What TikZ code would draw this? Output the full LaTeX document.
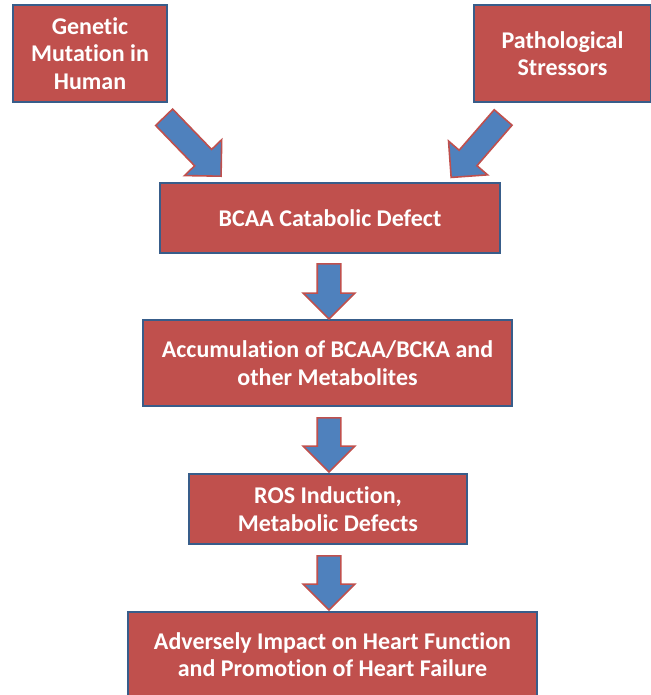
\documentclass[tikz,border=0pt]{standalone}
\usepackage{fontspec}
\setmainfont{Carlito}[Ligatures=NoCommon]
\usetikzlibrary{positioning,calc,shapes.arrows}
\definecolor{boxred}{HTML}{C0504D}
\definecolor{boxblue}{HTML}{385D8A}
\definecolor{arrowblue}{HTML}{4F81BD}
% block arrow between two named coordinates
\newcommand{\flowarrow}[2]{%
  \path let \p1=($(#2)-(#1)$), \n1={atan2(\y1,\x1)}, \n2={veclen(\x1,\y1)} in
    node[blockarrow, rotate=\n1, minimum height=\n2] at ($(#1)!0.5!(#2)$) {};}

\begin{document}
\begin{tikzpicture}[x=0.5pt, y=-0.5pt,
    redbox/.style={draw=boxblue, fill=boxred, line width=1.1pt, text=white,
      font=\bfseries\fontsize{12}{13.75}\selectfont, align=center, inner sep=2pt},
    blockarrow/.style={single arrow, draw=boxred, fill=arrowblue, line width=0.8pt,
      inner xsep=0pt, inner ysep=5.5pt, single arrow head extend=7pt}]
    \useasboundingbox (0,0) rectangle (651,695);

    % --- Causes ---
    \node[redbox, minimum width=77pt, minimum height=48.5pt] (genetic) at (90,53.5)
        {Genetic\\Mutation in\\Human};
    \node[redbox, minimum width=88.5pt, minimum height=48.5pt] (stress) at (562.5,53.5)
        {Pathological\\Stressors};

    % --- Chain of events ---
    \node[redbox, minimum width=170pt, minimum height=35pt] (bcaa) at (330,218)
        {BCAA Catabolic Defect};
    \node[redbox, minimum width=184.5pt, minimum height=43pt] (accum) at (327.5,363)
        {Accumulation of BCAA/BCKA and\\other Metabolites};
    \node[redbox, minimum width=139pt, minimum height=35pt] (ros) at (328,509)
        {ROS Induction,\\Metabolic Defects};
    \node[redbox, minimum width=204.5pt, minimum height=42.5pt] (heart) at (332.5,654.5)
        {Adversely Impact on Heart Function\\and Promotion of Heart Failure};

    % Arrow ends
    \coordinate (gen-tail) at (160,113);
    \coordinate (gen-tip) at (217,172);
    \coordinate (str-tail) at (507,113);
    \coordinate (str-tip) at (455,173);
    \coordinate (bcaa-out) at (329,258);
    \coordinate (accum-in) at (329,313);
    \coordinate (accum-out) at (329,412);
    \coordinate (ros-in) at (329,466);
    \coordinate (ros-out) at (329,550);
    \coordinate (heart-in) at (329,604);

    % Block arrows
    \flowarrow{gen-tail}{gen-tip}
    \flowarrow{str-tail}{str-tip}
    \flowarrow{bcaa-out}{accum-in}
    \flowarrow{accum-out}{ros-in}
    \flowarrow{ros-out}{heart-in}
\end{tikzpicture}
\end{document}
